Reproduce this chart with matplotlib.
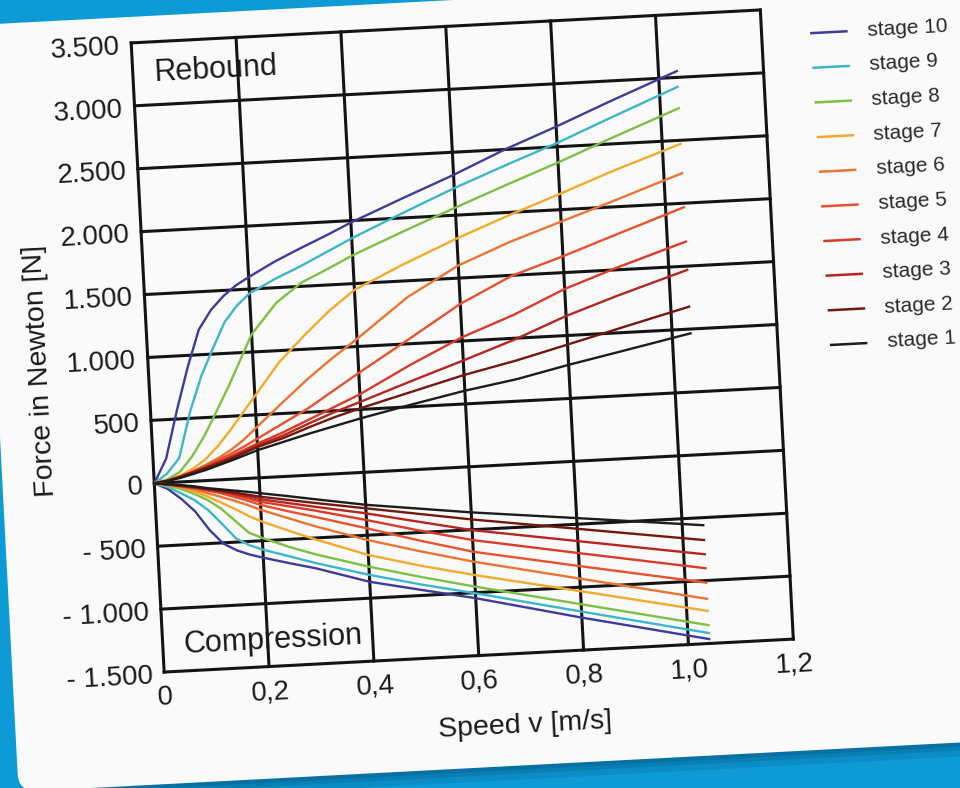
import matplotlib
matplotlib.use("Agg")
import matplotlib.pyplot as plt
from matplotlib.transforms import Affine2D
from matplotlib.patches import FancyBboxPatch

plt.rcParams['font.family'] = ['Liberation Sans', 'DejaVu Sans']

# ---------------- data ----------------
speed_rebound = [0, 0.025, 0.05, 0.075, 0.1, 0.125, 0.15, 0.175, 0.2, 0.25, 0.3, 0.35,
                 0.4, 0.5, 0.6, 0.7, 0.8, 0.9, 1.035]
rebound_s10 = [0, 190, 565, 905, 1200, 1350, 1455, 1535, 1595, 1705, 1800, 1890,
               1985, 2155, 2320, 2500, 2660, 2830, 3050]
rebound_s9 = [0, 70, 190, 550, 830, 1045, 1250, 1375, 1465, 1570, 1660, 1760,
              1860, 2040, 2215, 2375, 2530, 2700, 2925]
rebound_s8 = [0, 25, 80, 200, 355, 540, 730, 935, 1140, 1380, 1530, 1625,
              1725, 1895, 2060, 2220, 2375, 2540, 2755]
rebound_s7 = [0, 15, 50, 100, 170, 270, 390, 520, 650, 910, 1110, 1295,
              1450, 1640, 1815, 1975, 2125, 2280, 2472]
rebound_s6 = [0, 15, 45, 80, 125, 175, 235, 310, 400, 580, 756, 915,
              1060, 1370, 1600, 1765, 1905, 2045, 2239]
rebound_s5 = [0, 15, 42, 78, 118, 160, 205, 255, 310, 420, 530, 660,
              790, 1040, 1295, 1495, 1630, 1775, 1968]
rebound_s4 = [0, 15, 42, 75, 110, 145, 185, 228, 272, 350, 440, 530,
              620, 835, 1030, 1185, 1370, 1515, 1695]
rebound_s3 = [0, 15, 40, 72, 105, 138, 175, 215, 258, 325, 410, 490,
              560, 705, 845, 990, 1155, 1295, 1470]
rebound_s2 = [0, 15, 40, 70, 100, 130, 165, 205, 245, 305, 380, 450,
              510, 620, 730, 822, 928, 1035, 1178]
rebound_s1 = [0, 12, 32, 58, 85, 118, 150, 185, 220, 275, 330, 380,
              430, 520, 605, 675, 767, 851, 966]

speed_compression = [0, 0.025, 0.05, 0.075, 0.1, 0.125, 0.15, 0.175, 0.2, 0.25, 0.3,
                     0.4, 0.5, 0.6, 0.8, 1.04]
compression_s10 = [0, -50, -135, -240, -390, -505, -565, -605, -635, -690, -742,
                   -870, -958, -1044, -1242, -1465]
compression_s9 = [0, -35, -90, -150, -235, -350, -470, -530, -571, -635, -700,
                  -815, -915, -1005, -1194, -1417]
compression_s8 = [0, -25, -55, -100, -155, -230, -330, -430, -478, -560, -630,
                  -750, -855, -952, -1136, -1354]
compression_s7 = [0, -20, -45, -80, -127, -180, -235, -295, -346, -430, -510,
                  -657, -765, -860, -1032, -1241]
compression_s6 = [0, -18, -40, -65, -100, -135, -170, -210, -254, -330, -405,
                  -538, -650, -754, -932, -1145]
compression_s5 = [0, -15, -35, -55, -80, -105, -140, -175, -215, -275, -330,
                  -445, -565, -675, -832, -1016]
compression_s4 = [0, -15, -33, -50, -75, -100, -125, -155, -190, -235, -280,
                  -379, -485, -582, -729, -902]
compression_s3 = [0, -14, -30, -48, -70, -90, -115, -140, -170, -210, -250,
                  -326, -415, -503, -634, -791]
compression_s2 = [0, -13, -30, -45, -65, -85, -105, -128, -150, -185, -220,
                  -286, -352, -418, -536, -678]
compression_s1 = [0, -12, -25, -40, -60, -75, -90, -105, -122, -155, -190,
                  -258, -310, -362, -451, -560]

stage_labels = ["stage 10", "stage 9", "stage 8", "stage 7", "stage 6",
                "stage 5", "stage 4", "stage 3", "stage 2", "stage 1"]
stage_colors = ["#3E3C9A", "#3DB6CC", "#7CC143", "#F4AA2C", "#EC7432",
                "#E8512E", "#DC3A28", "#B5261E", "#74180F", "#1C1C1C"]

x_ticks = [0, 0.2, 0.4, 0.6, 0.8, 1.0, 1.2]
x_tick_labels = ["0", "0,2", "0,4", "0,6", "0,8", "1,0", "1,2"]
y_ticks = [-1500, -1000, -500, 0, 500, 1000, 1500, 2000, 2500, 3000, 3500]
y_tick_labels = ["- 1.500", "- 1.000", "- 500", "0", "500", "1.000",
                 "1.500", "2.000", "2.500", "3.000", "3.500"]

rebound_series = [rebound_s10, rebound_s9, rebound_s8, rebound_s7, rebound_s6,
                  rebound_s5, rebound_s4, rebound_s3, rebound_s2, rebound_s1]
compression_series = [compression_s10, compression_s9, compression_s8, compression_s7,
                      compression_s6, compression_s5, compression_s4, compression_s3,
                      compression_s2, compression_s1]

# ---------------- figure ----------------
W, H = 960, 788
fig = plt.figure(figsize=(W / 100, H / 100), dpi=100)
fig.patch.set_facecolor('#0D9AD5')

cx, cy = 462.25, 447.0
ang = 3.0
rot = Affine2D().rotate_deg_around(cx, cy, ang)

# card with shadow (display pixel coordinates, rotated)
for off, al in [(14, 0.18), (8, 0.22), (4, 0.28)]:
    sh = FancyBboxPatch((-4.4 + off * 0.3, 20 - off), 1100, 768,
                        boxstyle='round,pad=0,rounding_size=18',
                        transform=rot, facecolor='#064E78', edgecolor='none',
                        alpha=al, zorder=-3)
    fig.add_artist(sh)
card = FancyBboxPatch((-4.4, 20), 1100, 768, boxstyle='round,pad=0,rounding_size=18',
                      transform=rot, facecolor='#FAFAFA', edgecolor='none', zorder=-2)
fig.add_artist(card)

ax = fig.add_axes([147.25 / W, 132 / H, 630 / W, 630 / H])
ax.set_xlim(0, 1.2)
ax.set_ylim(-1500, 3500)
ax.axis('off')

T = ax.transData + rot
TA = ax.transAxes + rot

# grid (outer lines form the frame)
grid_kw = dict(color='#141414', lw=2.2, transform=T, clip_on=False,
               solid_capstyle='projecting', zorder=1)
for xv in x_ticks:
    ax.plot([xv, xv], [y_ticks[0], y_ticks[-1]], **grid_kw)
for yv in y_ticks:
    ax.plot([x_ticks[0], x_ticks[-1]], [yv, yv], **grid_kw)

# curves
for ys, c in zip(rebound_series, stage_colors):
    ax.plot(speed_rebound, ys, color=c, lw=1.7, transform=T, clip_on=False, zorder=3,
            solid_joinstyle='round')
for ys, c in zip(compression_series, stage_colors):
    ax.plot(speed_compression, ys, color=c, lw=1.7, transform=T, clip_on=False, zorder=3,
            solid_joinstyle='round')

txt_color = '#1A1A1A'
# tick labels
for xv, lab in zip(x_ticks, x_tick_labels):
    ax.text(xv, y_ticks[0], lab, transform=ax.transData + Affine2D().translate(0, -12.5) + rot,
            ha='center', va='top', rotation=ang, rotation_mode='anchor',
            fontsize=20, color=txt_color)
for yv, lab in zip(y_ticks, y_tick_labels):
    ax.text(x_ticks[0], yv, lab, transform=ax.transData + Affine2D().translate(-11.5, -3.5) + rot,
            ha='right', va='center', rotation=ang, rotation_mode='anchor',
            fontsize=20, color=txt_color)

# axis labels
ax.text(0.568, 0, "Speed v [m/s]", transform=ax.transAxes + Affine2D().translate(0, -72) + rot,
        ha='center', va='center', rotation=ang, rotation_mode='anchor',
        fontsize=20.5, color=txt_color)
ax.text(0, 0.487, "Force in Newton [N]", transform=ax.transAxes + Affine2D().translate(-108, 0) + rot,
        ha='center', va='center', rotation=90 + ang, rotation_mode='anchor',
        fontsize=20.5, color=txt_color)

# annotations
ax.text(0.033, 0.950, "Rebound", transform=TA, ha='left', va='center',
        rotation=ang, rotation_mode='anchor', fontsize=22, color=txt_color)
ax.text(0.0325, 0.041, "Compression", transform=TA, ha='left', va='center',
        rotation=ang, rotation_mode='anchor', fontsize=22, color=txt_color)

# legend (rotated with the card)
for i, (lab, c) in enumerate(zip(stage_labels, stage_colors)):
    yy = 0.959 - i * 0.0551
    x0 = 1.079 + i * 0.0006
    ax.plot([x0, x0 + 0.0556], [yy, yy], color=c, lw=1.8, transform=TA, clip_on=False)
    ax.text(1.168 + i * 0.0006, yy, lab, transform=TA, ha='left', va='center',
            rotation=ang, rotation_mode='anchor', fontsize=15, color='#2A2A2A')

fig.savefig('out.png', dpi=100, facecolor=fig.get_facecolor())
